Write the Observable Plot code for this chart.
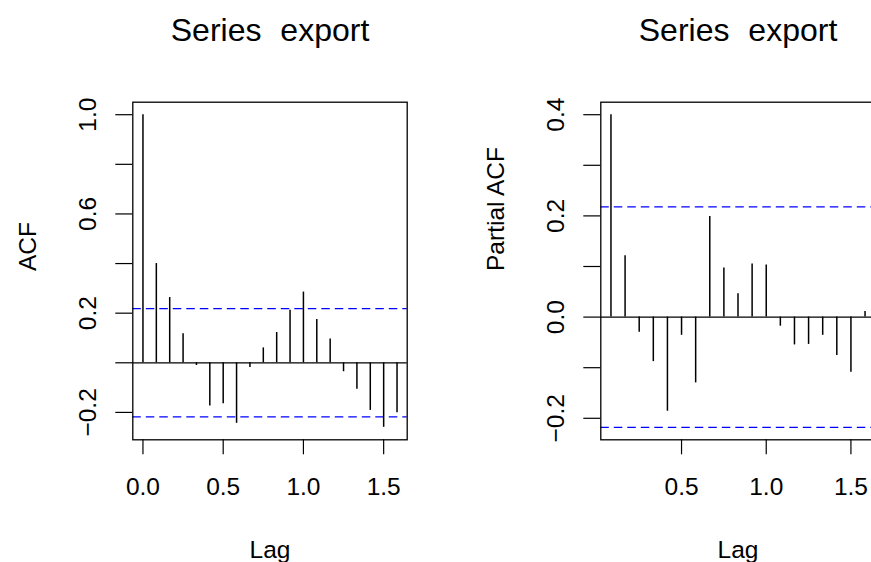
<!DOCTYPE html>
<html>
<head>
<meta charset="utf-8">
<script src="https://cdn.jsdelivr.net/npm/d3@7"></script>
<script src="https://cdn.jsdelivr.net/npm/@observablehq/plot@0.6"></script>
<style>
  html, body { margin: 0; padding: 0; background: #fff; }
  #wrap { position: relative; width: 871px; height: 562px; overflow: hidden; background: #fff; }
  #left { position: absolute; left: 0; top: 0; width: 435px; }
  #right { position: absolute; left: 435px; top: 0; width: 445px; }
  svg { max-width: none !important; }
</style>
</head>
<body>
<div id="wrap"><div id="left"></div><div id="right"></div></div>
<script>
// ---- data ----
const seriesTitle = "Series export";
const acfValues = [1.000, 0.400, 0.263, 0.117, -0.011, -0.174, -0.165, -0.244, -0.019, 0.060,
                   0.122, 0.212, 0.285, 0.175, 0.096, -0.036, -0.107, -0.192, -0.260, -0.201];
const pacfValues = [0.400, 0.121, -0.030, -0.088, -0.186, -0.036, -0.130, 0.199, 0.097, 0.046,
                    0.105, 0.103, -0.018, -0.055, -0.054, -0.036, -0.076, -0.109, 0.011];
const confLimit = 0.218;
const acfYTicks = [-0.2, 0, 0.2, 0.4, 0.6, 0.8, 1.0];
const acfYLabels = [-0.2, 0.2, 0.6, 1.0];
const pacfYTicks = [-0.2, -0.1, 0, 0.1, 0.2, 0.3, 0.4];
const pacfYLabels = [-0.2, 0.0, 0.2, 0.4];
const acfXTicks = [0, 0.5, 1.0, 1.5];
const pacfXTicks = [0.5, 1.0, 1.5];

const acfData = acfValues.map((v, i) => ({lag: i / 12, value: v}));
const pacfData = pacfValues.map((v, i) => ({lag: (i + 1) / 12, value: v}));

const FONT = "'Liberation Sans', Arial, Helvetica, sans-serif";
const fmt = d => (d < 0 ? "\u2212" : "") + Math.abs(d).toFixed(1);

function panel({data, xDomain, yDomain, yTicks, yLabels, xTicks, ylab, width, marginLeft, marginRight}) {
  const svg = Plot.plot({
    width, height: 562,
    marginLeft, marginRight, marginTop: 101.7, marginBottom: 122.7,
    style: {fontFamily: FONT, fontSize: "24.5px", background: "white", color: "black", overflow: "visible", maxWidth: "none"},
    x: {domain: xDomain},
    y: {domain: yDomain},
    marks: [
      Plot.ruleY([0], {stroke: "black", strokeWidth: 1.2}),
      Plot.ruleY([confLimit, -confLimit], {stroke: "#0000FF", strokeWidth: 1.3, strokeDasharray: "8.5,5"}),
      Plot.ruleX(data, {x: "lag", y1: 0, y2: "value", stroke: "black", strokeWidth: 1.5}),
      Plot.frame({stroke: "black", strokeWidth: 1.3}),
      Plot.axisY(yTicks, {tickSize: 17, fill: "none", strokeWidth: 1.2}),
      Plot.axisX(xTicks, {tickSize: 15, fill: "none", strokeWidth: 1.2}),
      Plot.text(yLabels, {y: d => d, text: fmt, frameAnchor: "left", dx: -37, rotate: -90,
                          textAnchor: "middle", lineAnchor: "bottom", fontSize: 24.5}),
      Plot.text(xTicks, {x: d => d, text: d => d.toFixed(1), frameAnchor: "bottom", dy: 55.5,
                         textAnchor: "middle", lineAnchor: "bottom", fontSize: 24.5}),
      Plot.text(["Lag"], {frameAnchor: "bottom", dy: 118.5, lineAnchor: "bottom", fontSize: 24.5}),
      Plot.text([ylab], {frameAnchor: "left", dx: -97, rotate: -90, lineAnchor: "bottom", fontSize: 24.5}),
      Plot.text([seriesTitle], {frameAnchor: "top", dy: -61.5, lineAnchor: "bottom", fontSize: 32})
    ]
  });
  d3.select(svg).selectAll("text").filter(function() { return this.textContent === seriesTitle; })
    .style("word-spacing", "10px");
  return svg;
}

document.getElementById("left").appendChild(panel({
  data: acfData, xDomain: [-0.0633, 1.6467], yDomain: [-0.3104, 1.0504],
  yTicks: acfYTicks, yLabels: acfYLabels, xTicks: acfXTicks, ylab: "ACF",
  width: 435, marginLeft: 132.3, marginRight: 28.3
}));
document.getElementById("right").appendChild(panel({
  data: pacfData, xDomain: [0.0233, 1.6433], yDomain: [-0.2425, 0.4247],
  yTicks: pacfYTicks, yLabels: pacfYLabels, xTicks: pacfXTicks, ylab: "Partial ACF",
  width: 445, marginLeft: 165.3, marginRight: 5.3
}));
</script>
</body>
</html>
